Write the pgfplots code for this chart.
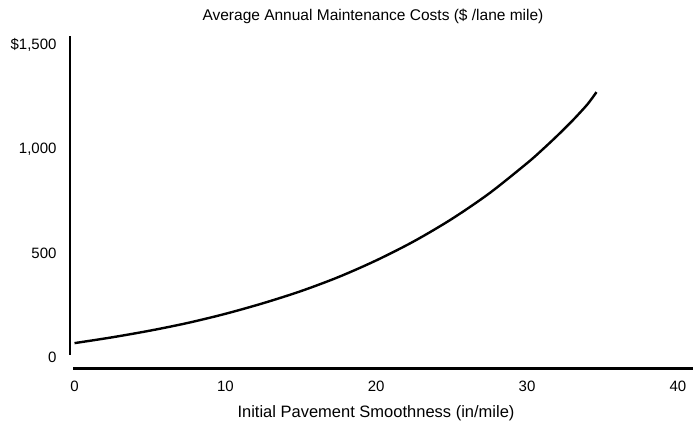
\documentclass[border=0pt]{standalone}
\usepackage{fontspec}
\setmainfont{Liberation Sans}
\usepackage{pgfplots}
\pgfplotsset{compat=1.18}
\begin{document}
\begin{tikzpicture}
\useasboundingbox (0,0) rectangle (693pt,424pt);
\begin{axis}[
  scale only axis,
  width=623pt, height=333.5pt,
  at={(70pt,54.5pt)}, anchor=south west,
  xmin=-0.3, xmax=41, ymin=-60, ymax=1545,
  axis x line*=bottom, axis y line*=left,
  axis line style={draw=none},
  xtick={0,10,20,30,40}, ytick={0,500,1000,1500},
  yticklabels={0,{500},{1,000},{\$1,500}},
  xticklabels={0,10,20,30,40},
  major tick length=0pt,
  tick label style={font=\fontsize{15}{17}\selectfont},
  xticklabel style={anchor=north, yshift=-8pt},
  yticklabel style={anchor=east, xshift=-10pt},
  clip=false,
]
\draw[line width=2.8pt] (axis cs:-0.3,10) -- (axis cs:-0.3,1545);
\draw[line width=2.6pt] (axis cs:-0.07,-55) -- (axis cs:41,-55);
\addplot[black, line width=2.4pt, smooth] coordinates {
(0,67) (2.5,95) (5,127) (7.5,164) (10,208) (12.5,259) (15,317) (17.5,385) (20,465) (22.5,557) (25,664) (27.5,788) (30,933) (31,997) (32,1065) (33,1137) (34,1216) (34.6,1275)
};
\end{axis}
\node[font=\fontsize{15.5}{17}\selectfont] at (373pt,408pt) {Average Annual Maintenance Costs (\$ /lane mile)};
\node[font=\fontsize{16.5}{18}\selectfont] at (376pt,11pt) {Initial Pavement Smoothness (in/mile)};
\end{tikzpicture}
\end{document}
